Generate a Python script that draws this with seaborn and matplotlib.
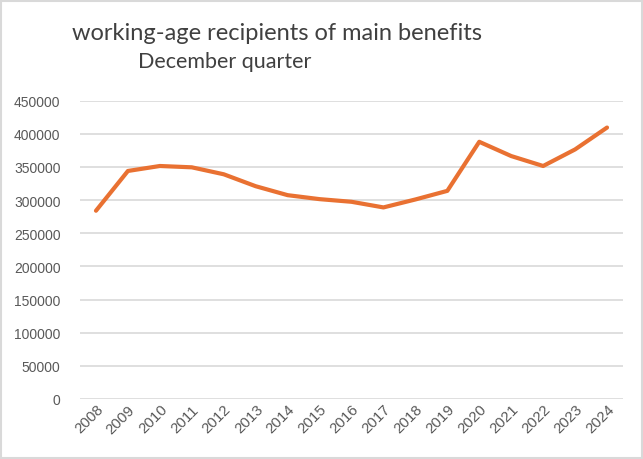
import matplotlib
matplotlib.use("Agg")
import matplotlib.pyplot as plt
import seaborn as sns
import pandas as pd
from matplotlib.patches import Rectangle

years = ["2008", "2009", "2010", "2011", "2012", "2013", "2014", "2015", "2016",
         "2017", "2018", "2019", "2020", "2021", "2022", "2023", "2024"]
recipients = [284000, 344000, 351500, 349500, 339000, 321000, 307500, 301500, 297500,
              289000, 301000, 314000, 388000, 366500, 351500, 376500, 409500]
yticks = [0, 50000, 100000, 150000, 200000, 250000, 300000, 350000, 400000, 450000]
title_line1 = "working-age recipients of main benefits"
title_line2 = "December quarter"

df = pd.DataFrame({"year": years, "recipients": recipients})

sns.set_theme(style="white")
plt.rcParams['font.family'] = ['Liberation Sans', 'DejaVu Sans']

fig = plt.figure(figsize=(6.43, 4.60), dpi=100)
ax = fig.add_axes([80 / 643, 1 - 400 / 460, (623 - 80) / 643, (400 - 101.7) / 460])

sns.lineplot(data=df, x="year", y="recipients", ax=ax, color="#E97132",
             linewidth=3, sort=False, solid_capstyle="round", zorder=3)

ax.set_xlim(-0.5, len(years) - 0.5)
ax.set_ylim(0, 450000)
ax.set_yticks(yticks)
ax.set_yticklabels([str(v) for v in yticks])
ax.yaxis.grid(True, color="#D9D9D9", linewidth=1.2)
ax.xaxis.grid(False)
for s in ax.spines.values():
    s.set_visible(False)
ax.set_xlabel("")
ax.set_ylabel("")
ax.tick_params(axis="y", length=0, pad=14, labelsize=10, labelcolor="#595959")
ax.tick_params(axis="x", length=0, pad=2, labelsize=10.8, labelcolor="#595959")
for lbl in ax.get_xticklabels():
    lbl.set_rotation(45)
    lbl.set_ha("right")
    lbl.set_rotation_mode("anchor")

fig.text(277 / 643, 1 - 33 / 460, title_line1, ha="center", va="center",
         fontsize=17, color="#404040", family=["Lato", "DejaVu Sans"])
fig.text(225 / 643, 1 - 62 / 460, title_line2, ha="center", va="center",
         fontsize=15.5, color="#404040", family=["Lato", "DejaVu Sans"])

fig.patches.append(Rectangle((1 / 643, 1 / 460), 640.5 / 643, 457.5 / 460,
                             transform=fig.transFigure, fill=False,
                             edgecolor="#D9D9D9", linewidth=1.5))

fig.savefig("out.png", dpi=100, facecolor="white")
